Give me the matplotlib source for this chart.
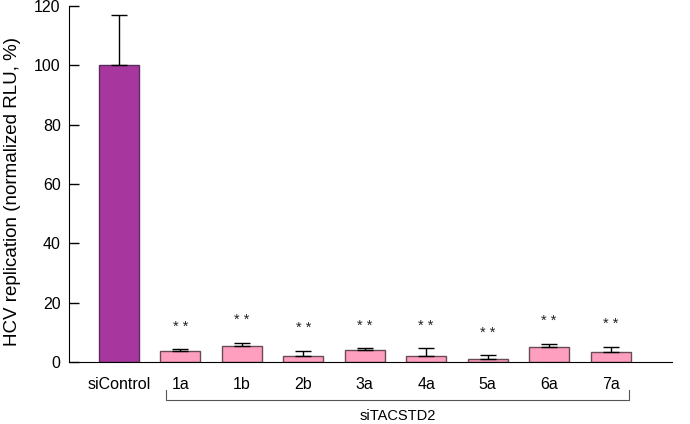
import matplotlib
matplotlib.use("Agg")
import matplotlib.pyplot as plt

plt.rcParams['font.family'] = ['Liberation Sans', 'DejaVu Sans']

categories = ["siControl", "1a", "1b", "2b", "3a", "4a", "5a", "6a", "7a"]
values = [100, 3.7, 5.5, 2.0, 4.1, 2.0, 1.0, 5.2, 3.4]
errors = [17, 0.7, 1.1, 1.9, 0.5, 2.8, 1.3, 1.0, 1.8]
stars = ["", "* *", "* *", "* *", "* *", "* *", "* *", "* *", "* *"]
group_label = "siTACSTD2"
ylabel = "HCV replication (normalized RLU, %)"
yticks = [0, 20, 40, 60, 80, 100, 120]

fig = plt.figure(figsize=(6.9, 4.24), dpi=100)
ax = fig.add_axes([0.1, 0.146, 0.874, 0.840])

x = list(range(len(categories)))
colors = ["#A8369F"] + ["#FF9FBF"] * (len(categories) - 1)
edges = ["#5B2D5B"] + ["#6A4A55"] * (len(categories) - 1)
ax.bar(x, values, width=0.65, color=colors, edgecolor=edges, linewidth=1.0, zorder=2)
ax.errorbar(x, values, yerr=[[0] * len(errors), errors], fmt="none", ecolor="black",
            elinewidth=1.0, capsize=6, capthick=1.0, zorder=3)

for xi, v, e, s in zip(x, values, errors, stars):
    if s:
        ax.annotate(s, (xi, v + e), xytext=(0, 11), textcoords="offset points",
                    ha="center", va="bottom", fontsize=10.5, color="#222222")

ax.set_xlim(-0.81, 9.0)
ax.set_ylim(0, 120)
ax.set_yticks(yticks)
ax.tick_params(axis="y", direction="in", length=7, width=1, labelsize=11.5, pad=6)
ax.set_xticks(x)
ax.set_xticklabels(categories)
ax.tick_params(axis="x", length=0, labelsize=11.5, pad=10.5)
ax.spines["top"].set_visible(False)
ax.spines["right"].set_visible(False)
ax.set_ylabel(ylabel, fontsize=13.5)
ax.yaxis.set_label_coords(-0.080, 0.479)

# bracket under group
trans = ax.get_xaxis_transform()
x0, x1 = 0.76, 8.3
yb, yt = -0.107, -0.079
ax.plot([x0, x0, x1, x1], [yt, yb, yb, yt], transform=trans, color="#555555",
        linewidth=0.8, clip_on=False)
ax.text((x0 + x1) / 2, -0.150, group_label, transform=trans, ha="center", va="center",
        fontsize=10.5)

fig.savefig("out.png", dpi=100)
